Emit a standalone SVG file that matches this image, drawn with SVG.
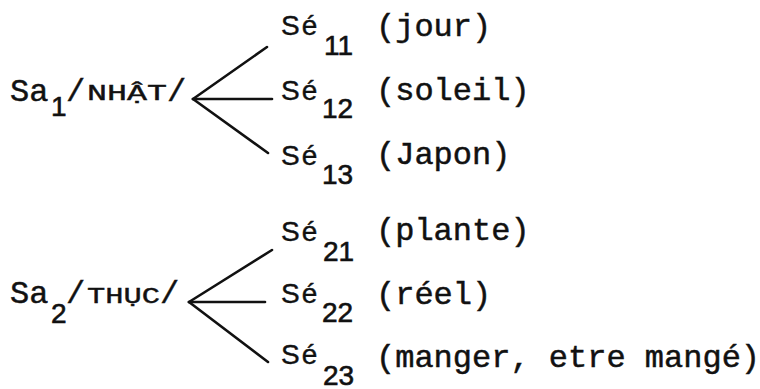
<svg xmlns="http://www.w3.org/2000/svg" width="760" height="389" viewBox="0 0 760 389">
<style>
.m{font-family:"Liberation Mono","Courier New",monospace;font-size:32px;fill:#111;stroke:#111;stroke-width:0.5}
.sc{font-family:"Liberation Mono","Courier New",monospace;font-size:22px;fill:#111;stroke:#111;stroke-width:0.4}
.s{font-family:"Liberation Sans",Arial,sans-serif;font-size:28px;fill:#111;stroke:#111;stroke-width:0.4;letter-spacing:2px}
.d{font-family:"Liberation Sans",Arial,sans-serif;font-size:28px;fill:#111;stroke:#111;stroke-width:0.6}
.c line{stroke:#111;stroke-width:2.6;stroke-linecap:round}
</style>
<rect width="760" height="389" fill="#fff"/>
<g id="sa1">
<text class="m" x="10" y="101">Sa</text>
<text class="d" x="51" y="116">1</text>
<text class="m" x="66" y="101">/</text>
<text class="sc" x="87" y="100" textLength="80" lengthAdjust="spacingAndGlyphs">NHẬT</text>
<text class="m" x="167" y="101">/</text>
</g>
<g id="se11"><text class="s" x="281" y="35">Sé</text><text class="d" x="324" y="55">11</text><text class="m" x="376" y="36">(jour)</text></g>
<g id="se12"><text class="s" x="281" y="100">Sé</text><text class="d" x="322" y="118">12</text><text class="m" x="376" y="100">(soleil)</text></g>
<g id="se13"><text class="s" x="281" y="165">Sé</text><text class="d" x="322" y="184">13</text><text class="m" x="376" y="164">(Japon)</text></g>
<g id="sa2">
<text class="m" x="10" y="303">Sa</text>
<text class="d" x="51" y="323">2</text>
<text class="m" x="66" y="303">/</text>
<text class="sc" x="87" y="303" textLength="73" lengthAdjust="spacingAndGlyphs">THỤC</text>
<text class="m" x="160" y="303">/</text>
</g>
<g id="se21"><text class="s" x="281" y="241">Sé</text><text class="d" x="323" y="261">21</text><text class="m" x="376" y="240">(plante)</text></g>
<g id="se22"><text class="s" x="281" y="303">Sé</text><text class="d" x="322" y="322">22</text><text class="m" x="376" y="304">(réel)</text></g>
<g id="se23"><text class="s" x="281" y="364">Sé</text><text class="d" x="323" y="385">23</text><text class="m" x="376" y="367">(manger, etre mangé)</text></g>
<g class="c" id="connectors">
<line x1="193" y1="99" x2="267" y2="47"/>
<line x1="193" y1="99" x2="272" y2="99"/>
<line x1="193" y1="99" x2="268" y2="153"/>
<line x1="189" y1="302" x2="272" y2="250"/>
<line x1="189" y1="302" x2="265" y2="302"/>
<line x1="189" y1="302" x2="268" y2="362"/>
</g>
</svg>
